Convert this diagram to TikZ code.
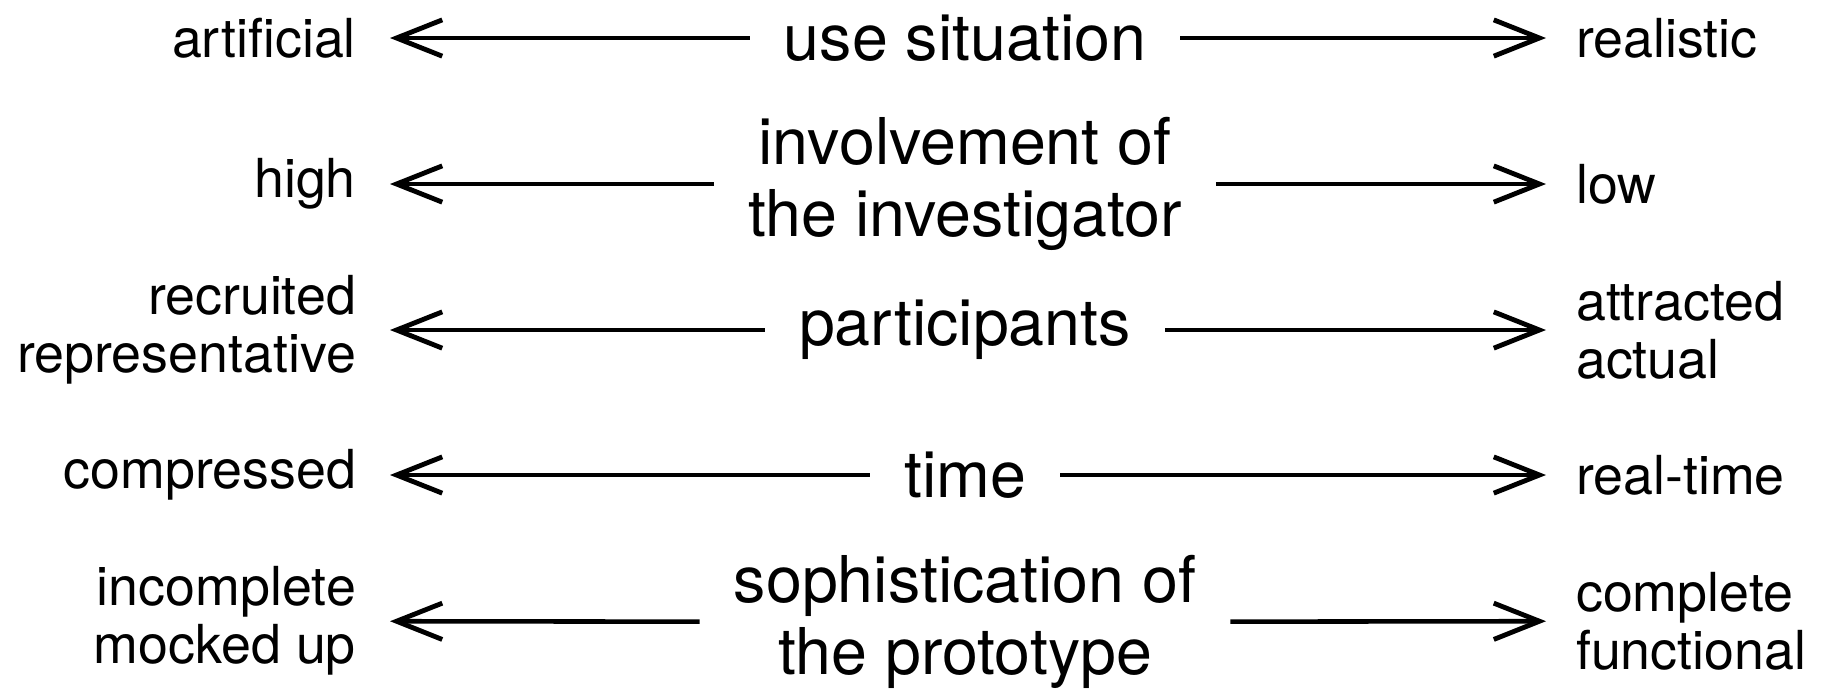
\documentclass[tikz,border=0pt]{standalone}
\usepackage{fontspec}
\setmainfont{TeX Gyre Heros}
\usetikzlibrary{arrows.meta}
\tikzset{
    factor/.style={font=\fontsize{24}{26.8}\selectfont, align=center, inner xsep=12.5pt, inner ysep=0pt},
    poleleft/.style={font=\fontsize{20}{21.6}\selectfont, align=right, anchor=east, inner xsep=12.5pt, inner ysep=0pt},
    poleright/.style={font=\fontsize{20}{21.6}\selectfont, align=left, anchor=west, inner xsep=11pt, inner ysep=0pt},
    arrowline/.style={-{Straight Barb[length=17pt, width=13.5pt, line width=1.8pt]}, line width=1.7pt}
}

\begin{document}
\begin{tikzpicture}[x=0.372pt, y=-0.372pt]
  \useasboundingbox (0,0) rectangle (1823,689);
  % dimensions in the middle
  \node[factor] (situation) at (965,38) {use situation};
  \node[factor] (involvement) at (965,184) {involvement of\\the investigator};
  \node[factor] (participants) at (965,330) {participants};
  \node[factor] (timing) at (965,475) {time};
  \node[factor] (sophistication) at (965,622) {sophistication of\\the prototype};
  % left poles
  \node[poleleft] (artificial) at (390,38) {artificial};
  \node[poleleft] (high) at (390,184) {high};
  \node[poleleft] (recruited) at (390,330) {recruited\\representative};
  \node[poleleft] (compressed) at (390,475) {compressed};
  \node[poleleft] (incomplete) at (390,621) {incomplete\\mocked up};
  % right poles
  \node[poleright] (realistic) at (1546,38) {realistic};
  \node[poleright] (low) at (1546,184) {low};
  \node[poleright] (attracted) at (1546,330) {attracted\\actual};
  \node[poleright] (realtime) at (1546,475) {real-time};
  \node[poleright] (complete) at (1546,621) {complete\\functional};
  \draw[arrowline] (situation) -- (artificial);
  \draw[arrowline] (situation) -- (realistic);
  \draw[arrowline] (involvement) -- (high);
  \draw[arrowline] (involvement) -- (low);
  \draw[arrowline] (participants) -- (recruited);
  \draw[arrowline] (participants) -- (attracted);
  \draw[arrowline] (timing) -- (compressed);
  \draw[arrowline] (timing) -- (realtime);
  \draw[arrowline] (sophistication) -- (incomplete);
  \draw[arrowline] (sophistication) -- (complete);
\end{tikzpicture}
\end{document}
